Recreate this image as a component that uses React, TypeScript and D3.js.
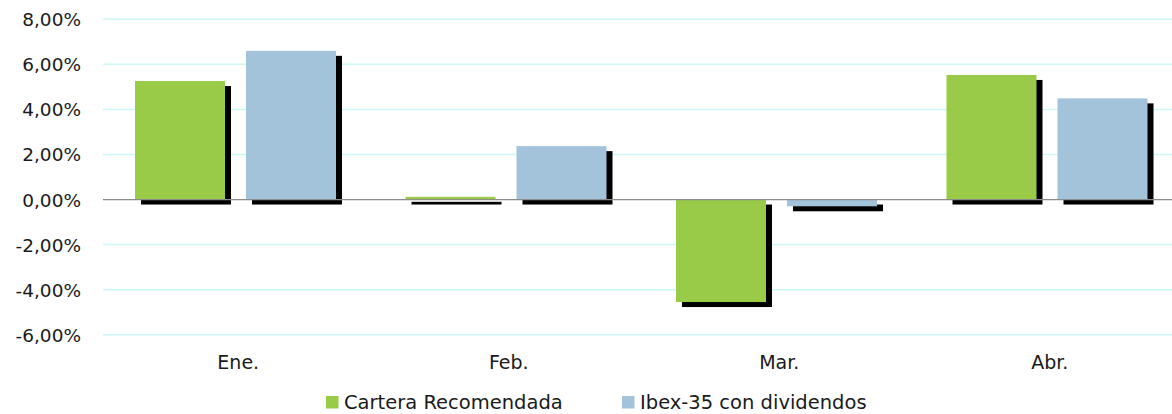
import { useEffect, useRef } from "react"
import * as d3 from "d3"

const categories = ["Ene.", "Feb.", "Mar.", "Abr."]
const seriesNames = ["Cartera Recomendada", "Ibex-35 con dividendos"]
const cartera = [5.26, 0.12, -4.55, 5.53]
const ibex = [6.6, 2.37, -0.3, 4.49]
const yTicks = [-6, -4, -2, 0, 2, 4, 6, 8]

const colors = ["#9acb48", "#a3c3da"]

export default function App() {
  const svgRef = useRef<SVGSVGElement>(null)

  useEffect(() => {
    if (!svgRef.current) return
    const svg = d3.select(svgRef.current)
    svg.selectAll("*").remove()

    const width = 1172
    const left = 103
    const step = 270.5
    const font = "'DejaVu Sans', sans-serif"
    const textColor = "#1a1a1a"

    const y = d3.scaleLinear().domain([-6, 8]).range([334.7, 19.3])
    const x = d3
      .scaleBand()
      .domain(categories)
      .range([left, left + step * categories.length])
      .paddingInner(0)
      .paddingOuter(0)

    // grid lines
    svg
      .append("g")
      .selectAll("line")
      .data(yTicks.filter((d) => d !== 0))
      .enter()
      .append("line")
      .attr("x1", left)
      .attr("x2", width)
      .attr("y1", (d) => y(d))
      .attr("y2", (d) => y(d))
      .attr("stroke", "#ccf7f7")
      .attr("stroke-width", 1.5)

    // y labels
    svg
      .append("g")
      .selectAll("text")
      .data(yTicks)
      .enter()
      .append("text")
      .attr("x", 81)
      .attr("y", (d) => y(d) + 7)
      .attr("text-anchor", "end")
      .attr("font-family", font)
      .attr("font-size", 18.5)
      .attr("fill", textColor)
      .text((d) => d3.format(".2f")(d).replace("−", "-").replace(".", ",") + "%")

    const series = [cartera, ibex]
    const barW = 90
    const gap = 21
    const offset = 32

    const points = series.flatMap((vals, si) =>
      vals.map((v, i) => ({ cat: categories[i], v, si }))
    )
    const bx = (d: { cat: string; si: number }) => (x(d.cat) as number) + offset + d.si * (barW + gap)

    // shadows
    svg
      .append("g")
      .selectAll("rect")
      .data(points)
      .enter()
      .append("rect")
      .attr("x", (d) => bx(d) + 6)
      .attr("y", (d) => Math.min(y(d.v), y(0)) + 5)
      .attr("width", barW)
      .attr("height", (d) => Math.abs(y(d.v) - y(0)))
      .attr("fill", "#000")

    // bars
    svg
      .append("g")
      .selectAll("rect")
      .data(points)
      .enter()
      .append("rect")
      .attr("x", (d) => bx(d))
      .attr("y", (d) => Math.min(y(d.v), y(0)))
      .attr("width", barW)
      .attr("height", (d) => Math.abs(y(d.v) - y(0)))
      .attr("fill", (d) => colors[d.si])

    // zero line
    svg
      .append("line")
      .attr("x1", left)
      .attr("x2", width)
      .attr("y1", y(0))
      .attr("y2", y(0))
      .attr("stroke", "#8c8c8c")
      .attr("stroke-width", 1.3)

    // category labels
    svg
      .append("g")
      .selectAll("text")
      .data(categories)
      .enter()
      .append("text")
      .attr("x", (d) => (x(d) as number) + x.bandwidth() / 2)
      .attr("y", 369)
      .attr("text-anchor", "middle")
      .attr("font-family", font)
      .attr("font-size", 19)
      .attr("fill", textColor)
      .text((d) => d)

    // legend
    const legendX = [326, 622]
    seriesNames.forEach((name, i) => {
      const g = svg.append("g").attr("transform", `translate(${legendX[i]}, 396)`)
      g.append("rect").attr("width", 12.5).attr("height", 12.5).attr("fill", colors[i])
      g.append("text")
        .attr("x", 18)
        .attr("y", 13)
        .attr("font-family", font)
        .attr("font-size", 19.5)
        .attr("fill", textColor)
        .text(name)
    })
  }, [])

  return (
    <svg
      ref={svgRef}
      width={1172}
      height={414}
      style={{ position: "absolute", left: 0, top: 0, background: "#fff", overflow: "hidden" }}
    />
  )
}
